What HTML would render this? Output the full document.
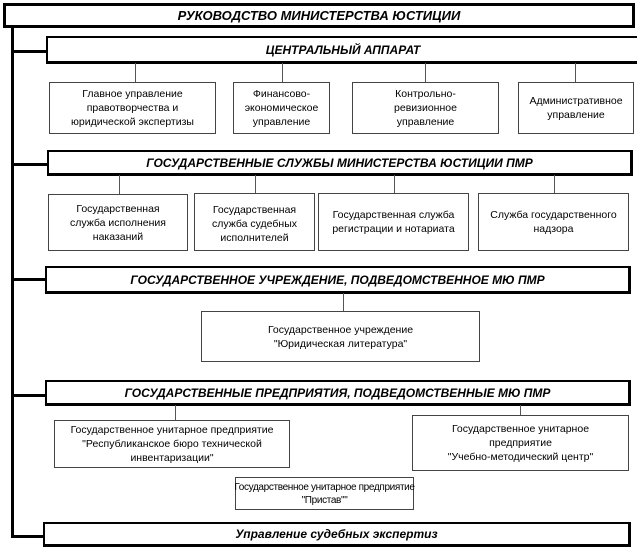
<!DOCTYPE html>
<html><head><meta charset="utf-8"><style>
body{margin:0;width:637px;height:549px;background:#fff;position:relative;overflow:hidden;font-family:"Liberation Sans",sans-serif;color:#000}
.b{position:absolute;box-sizing:border-box;border:1px solid #444;display:flex;align-items:center;justify-content:center;text-align:center;font-size:10.5px;line-height:14px;background:#fff}
.h{border:2px solid #000;border-right-width:3px;border-bottom-width:3px;font-weight:bold;font-style:italic;font-size:12px}
.l{position:absolute;background:#000}
.v{position:absolute;width:1px;background:#555}
.nw{white-space:nowrap}
</style></head><body>
<div class="l" style="left:11px;top:27px;width:3px;height:511px"></div>
<div class="l" style="left:11px;top:50px;width:36px;height:3px"></div>
<div class="l" style="left:11px;top:163px;width:36px;height:3px"></div>
<div class="l" style="left:11px;top:278px;width:35px;height:3px"></div>
<div class="l" style="left:11px;top:394px;width:35px;height:3px"></div>
<div class="l" style="left:11px;top:535px;width:33px;height:3px"></div>

<div class="b h" style="left:3px;top:3px;width:632px;height:25px;font-size:13px;border-width:3px">РУКОВОДСТВО МИНИСТЕРСТВА ЮСТИЦИИ</div>
<div class="b h" style="left:46px;top:36px;width:595px;height:28px">ЦЕНТРАЛЬНЫЙ АППАРАТ</div>
<div class="v" style="left:135px;top:63px;height:19px"></div>
<div class="v" style="left:282px;top:63px;height:19px"></div>
<div class="v" style="left:425px;top:63px;height:19px"></div>
<div class="v" style="left:575px;top:63px;height:19px"></div>
<div class="b" style="left:49px;top:82px;width:167px;height:52px">Главное управление<br>правотворчества и<br>юридической экспертизы</div>
<div class="b" style="left:233px;top:82px;width:97px;height:52px">Финансово-<br>экономическое<br>управление</div>
<div class="b" style="left:352px;top:82px;width:147px;height:52px">Контрольно-<br>ревизионное<br>управление</div>
<div class="b" style="left:518px;top:82px;width:116px;height:52px">Административное<br>управление</div>

<div class="b h" style="left:47px;top:150px;width:586px;height:26px">ГОСУДАРСТВЕННЫЕ СЛУЖБЫ МИНИСТЕРСТВА ЮСТИЦИИ ПМР</div>
<div class="v" style="left:119px;top:175px;height:19px"></div>
<div class="v" style="left:255px;top:175px;height:19px"></div>
<div class="v" style="left:394px;top:175px;height:19px"></div>
<div class="v" style="left:554px;top:175px;height:19px"></div>
<div class="b" style="left:48px;top:194px;width:140px;height:57px">Государственная<br>служба исполнения<br>наказаний</div>
<div class="b" style="left:194px;top:193px;width:121px;height:58px;align-items:flex-start;padding-top:9px">Государственная<br>служба судебных<br>исполнителей</div>
<div class="b" style="left:318px;top:193px;width:151px;height:58px">Государственная служба<br>регистрации и нотариата</div>
<div class="b" style="left:478px;top:193px;width:151px;height:58px">Служба государственного<br>надзора</div>

<div class="b h" style="left:45px;top:266px;width:586px;height:28px">ГОСУДАРСТВЕННОЕ УЧРЕЖДЕНИЕ, ПОДВЕДОМСТВЕННОЕ МЮ ПМР</div>
<div class="v" style="left:343px;top:293px;height:18px"></div>
<div class="b" style="left:201px;top:311px;width:279px;height:51px">Государственное учреждение<br>"Юридическая литература"</div>

<div class="b h" style="left:45px;top:380px;width:586px;height:26px">ГОСУДАРСТВЕННЫЕ ПРЕДПРИЯТИЯ, ПОДВЕДОМСТВЕННЫЕ МЮ ПМР</div>
<div class="v" style="left:175px;top:405px;height:15px"></div>
<div class="v" style="left:520px;top:405px;height:10px"></div>
<div class="b nw" style="left:54px;top:420px;width:236px;height:48px">Государственное унитарное предприятие<br>"Республиканское бюро технической<br>инвентаризации"</div>
<div class="b nw" style="left:412px;top:415px;width:217px;height:56px">Государственное унитарное<br>предприятие<br>"Учебно-методический центр"</div>
<div class="b nw" style="left:235px;top:477px;width:179px;height:33px;font-size:10px;line-height:13px;letter-spacing:-0.35px">Государственное унитарное предприятие<br>"Пристав""</div>

<div class="b h" style="left:43px;top:522px;width:588px;height:25px">Управление судебных экспертиз</div>
</body></html>
